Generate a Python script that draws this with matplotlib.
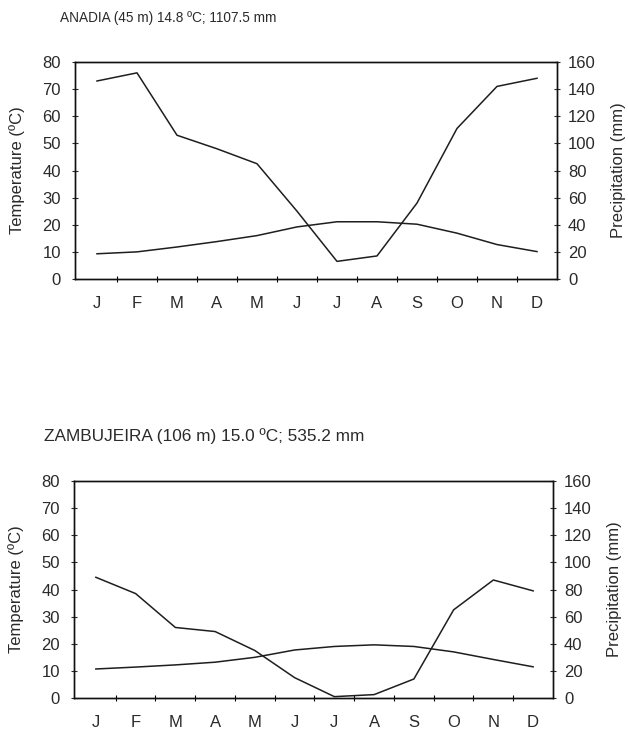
import matplotlib
matplotlib.use("Agg")
import matplotlib.pyplot as plt
import numpy as np

plt.rcParams['font.family'] = ['Liberation Sans', 'DejaVu Sans']

months = ['J', 'F', 'M', 'A', 'M', 'J', 'J', 'A', 'S', 'O', 'N', 'D']

anadia_title = 'ANADIA (45 m) 14.8 ºC; 1107.5 mm'
anadia_temp = [9.3, 10.0, 11.8, 13.8, 16.0, 19.2, 21.1, 21.1, 20.2, 16.9, 12.7, 10.1]
anadia_prec = [146, 152, 106, 96, 85, 50, 13, 17, 56, 111, 142, 148]

zamb_title = 'ZAMBUJEIRA (106 m) 15.0 ºC; 535.2 mm'
zamb_temp = [10.7, 11.4, 12.2, 13.2, 15.0, 17.7, 19.0, 19.6, 19.0, 17.0, 14.2, 11.5]
zamb_prec = [89, 77, 52, 49, 35, 15, 1, 2.5, 14, 65, 87, 79]

temp_ticks = [0, 10, 20, 30, 40, 50, 60, 70, 80]
prec_ticks = [0, 20, 40, 60, 80, 100, 120, 140, 160]

W, H = 628, 731
fig = plt.figure(figsize=(W / 100, H / 100), dpi=100)

line_color = '#1e1e1e'
txt = '#2a2a2a'
FS = 12


def make_panel(rect, title, title_xy, title_fs, temp, prec):
    ax = fig.add_axes(rect)
    x = np.arange(len(months))
    ax.plot(x, temp, color=line_color, lw=1.1)
    ax.set_xlim(-0.55, 11.5)
    ax.set_ylim(0, 80)
    ax.set_yticks(temp_ticks)
    ax.set_yticklabels([str(t) for t in temp_ticks])
    ax.tick_params(axis='y', direction='inout', length=4, width=0.8,
                   labelsize=FS, pad=8, colors=txt)
    ax.set_xticks(np.arange(0.5, 11, 1))
    ax.set_xticklabels([])
    ax.tick_params(axis='x', which='major', direction='inout', length=5, width=0.8)
    ax.set_xticks(x, minor=True)
    ax.set_xticklabels(months, minor=True)
    ax.tick_params(axis='x', which='minor', length=0, labelsize=FS, pad=12,
                   colors=txt)
    ax.set_ylabel('Temperature (ºC)', fontsize=FS, color=txt)
    ax.yaxis.set_label_coords(-0.104, 0.5)
    for s in ax.spines.values():
        s.set_linewidth(1.0)
        s.set_color('#111111')

    ax2 = ax.twinx()
    ax2.plot(x, prec, color=line_color, lw=1.1)
    ax2.set_ylim(0, 160)
    ax2.set_yticks(prec_ticks)
    ax2.set_yticklabels([str(t) for t in prec_ticks])
    ax2.tick_params(axis='y', direction='inout', length=4, width=0.8,
                    labelsize=FS, pad=6, colors=txt)
    ax2.set_ylabel('Precipitation (mm)', fontsize=FS, color=txt)
    ax2.yaxis.set_label_coords(1.112, 0.5)
    for s in ax2.spines.values():
        s.set_linewidth(1.0)
        s.set_color('#111111')

    fig.text(title_xy[0] / W, 1 - title_xy[1] / H, title, fontsize=title_fs,
             ha='left', va='center', color=txt)
    return ax, ax2


make_panel([75 / W, 1 - 279 / H, 482 / W, 217 / H], anadia_title, (60, 18), 9.8,
           anadia_temp, anadia_prec)
make_panel([74 / W, 1 - 698 / H, 479 / W, 217 / H], zamb_title, (44, 436), 12.4,
           zamb_temp, zamb_prec)

fig.savefig('out.png', dpi=100, facecolor='white')
